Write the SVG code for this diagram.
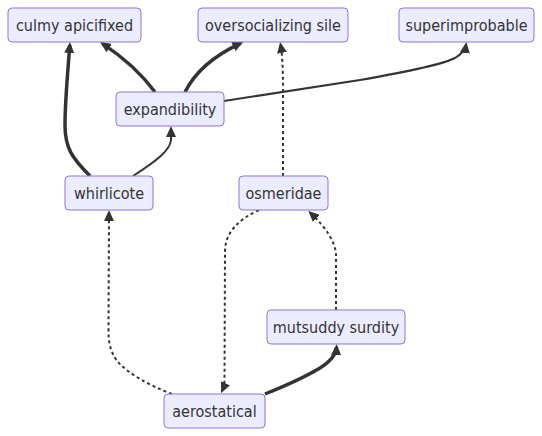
<svg xmlns="http://www.w3.org/2000/svg" width="542" height="436" viewBox="0 0 542 436">
<style>
.node rect{fill:#ECECFF;stroke:#9370DB;stroke-width:1px}
.node text{font-family:"DejaVu Sans Condensed","DejaVu Sans",sans-serif;font-stretch:condensed;font-size:16px;fill:#333;text-anchor:middle;dominant-baseline:central}
.e{fill:none;stroke:#333}
.thin{stroke-width:2px}
.thick{stroke-width:3.5px}
.dot{stroke-width:2px;stroke-dasharray:3 3}
</style>
<defs>
<marker id="ah" viewBox="0 0 11 10" markerWidth="11" markerHeight="10" refX="8" refY="5" markerUnits="userSpaceOnUse" orient="auto">
<path d="M0,0 L11,5 L0,10 z" fill="#333"/>
</marker>
</defs>
<rect width="542" height="436" fill="#fff"/>
<g id="edges">
<path class="e thick" d="M90,176 C72,158 65,148 65,125 C65,100 68,70 69.8,45" marker-end="url(#ah)"/>
<path class="e thin" d="M133,176 C158,160 170,150 171,140 L171,129" marker-end="url(#ah)"/>
<path class="e thick" d="M155,92 Q135,65 102.5,43.6" marker-end="url(#ah)"/>
<path class="e thick" d="M185,92 Q200,62 240.6,43.3" marker-end="url(#ah)"/>
<path class="e thin" d="M224,101 L360,80 Q440,66 455,58 Q465,52 466,45" marker-end="url(#ah)"/>
<path class="e dot" d="M283,176 L283,90 Q283,58 280.6,45" marker-end="url(#ah)"/>
<path class="e dot" d="M259,210 Q226,225 225,250 L224.5,380 Q224.3,386 222.3,390.5" marker-end="url(#ah)"/>
<path class="e dot" d="M336,310 L336,255 Q335,236 310.5,213" marker-end="url(#ah)"/>
<path class="e dot" d="M172,394 Q135,380 118,362 Q108,350 108.5,330 L109,213" marker-end="url(#ah)"/>
<path class="e thick" d="M265,394 Q300,380 320,368 Q336,358 336.5,347" marker-end="url(#ah)"/>
</g>
<g id="culmy" class="node"><rect x="8" y="8" width="133" height="34" rx="4"/><text x="74.5" y="25">culmy apicifixed</text></g>
<g id="oversocializing" class="node"><rect x="198" y="8" width="150" height="34" rx="4"/><text x="273" y="25">oversocializing sile</text></g>
<g id="superimprobable" class="node"><rect x="399" y="8" width="135" height="34" rx="4"/><text x="466.5" y="25">superimprobable</text></g>
<g id="expandibility" class="node"><rect x="116" y="92" width="108" height="34" rx="4"/><text x="170" y="109">expandibility</text></g>
<g id="whirlicote" class="node"><rect x="65" y="176" width="88" height="34" rx="4"/><text x="109" y="193">whirlicote</text></g>
<g id="osmeridae" class="node"><rect x="239" y="176" width="89" height="34" rx="4"/><text x="283.5" y="193">osmeridae</text></g>
<g id="mutsuddy" class="node"><rect x="267" y="310" width="138" height="34" rx="4"/><text x="336" y="327">mutsuddy surdity</text></g>
<g id="aerostatical" class="node"><rect x="164" y="394" width="101" height="34" rx="4"/><text x="214.5" y="411">aerostatical</text></g>
</svg>
